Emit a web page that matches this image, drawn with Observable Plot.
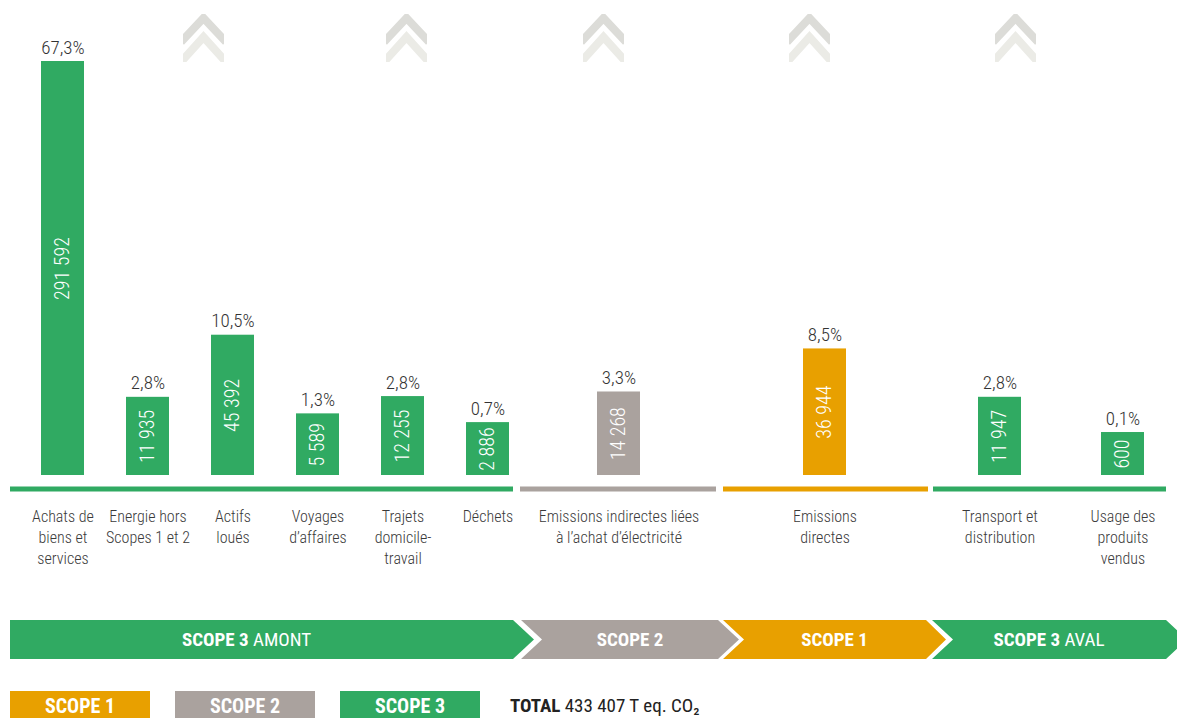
<!DOCTYPE html>
<html>
<head>
<meta charset="utf-8">
<script src="https://cdn.jsdelivr.net/npm/d3@7"></script>
<script src="https://cdn.jsdelivr.net/npm/@observablehq/plot@0.6"></script>
<style>
  html, body { margin: 0; padding: 0; background: #fff; }
  body { width: 1177px; height: 718px; overflow: hidden; position: relative;
         font-family: "Roboto Condensed", "DejaVu Sans Condensed", "Liberation Sans Narrow", sans-serif; font-stretch: condensed; }
  #chart { position: absolute; left: 0; top: 0; width: 1177px; height: 600px; }
  .panel { position: absolute; top: 0; }
  .panel svg { overflow: visible; font-stretch: condensed; }
  .chev { position: absolute; top: 14px; width: 41px; height: 48px; overflow: hidden; }
  .band { position: absolute; top: 620px; height: 39px; color: #fff; font-size: 19px; line-height: 39px; text-align: center; }
  .band b { font-weight: bold; }
  .legend { position: absolute; top: 691px; width: 140px; height: 30px; line-height: 31px; color: #fff;
            font-weight: bold; font-size: 20px; text-align: center; }
  #total { position: absolute; top: 691px; left: 510px; line-height: 30px; font-size: 19px; color: #222; }
</style>
</head>
<body>
<div id="chart"></div>
<div id="deco"></div>
<div id="bottom"></div>
<script>
// ---------- data ----------
const categories = [
  "Achats de\nbiens et\nservices",
  "Energie hors\nScopes 1 et 2",
  "Actifs\nloués",
  "Voyages\nd’affaires",
  "Trajets\ndomicile-\ntravail",
  "Déchets",
  "Emissions indirectes liées\nà l’achat d’électricité",
  "Emissions\ndirectes",
  "Transport et\ndistribution",
  "Usage des\nproduits\nvendus"
];
const values   = [291592, 11935, 45392, 5589, 12255, 2886, 14268, 36944, 11947, 600];
const percents = [67.3, 2.8, 10.5, 1.3, 2.8, 0.7, 3.3, 8.5, 2.8, 0.1];
const scopes   = ["SCOPE 3", "SCOPE 3", "SCOPE 3", "SCOPE 3", "SCOPE 3", "SCOPE 3", "SCOPE 2", "SCOPE 1", "SCOPE 3", "SCOPE 3"];
const groups   = ["SCOPE 3 AMONT", "SCOPE 3 AMONT", "SCOPE 3 AMONT", "SCOPE 3 AMONT", "SCOPE 3 AMONT", "SCOPE 3 AMONT",
                  "SCOPE 2", "SCOPE 1", "SCOPE 3 AVAL", "SCOPE 3 AVAL"];
const groupNames = ["SCOPE 3 AMONT", "SCOPE 2", "SCOPE 1", "SCOPE 3 AVAL"];
const groupScope = ["SCOPE 3", "SCOPE 2", "SCOPE 1", "SCOPE 3"];
const scopeNames = ["SCOPE 1", "SCOPE 2", "SCOPE 3"];
const totalText = "433 407 T eq. CO₂";

// ---------- styles / layout ----------
const FONT = "'Roboto Condensed', 'DejaVu Sans Condensed', 'Liberation Sans Narrow', sans-serif";
const scopeColors = ["#e8a000", "#aaa29e", "#30aa62"];
const colorOf = s => scopeColors[scopeNames.indexOf(s)];
const panels = [
  {left: 10,  width: 503, range: [-14, 543],    padding: 0.5},
  {left: 520, width: 196, range: [33.5, 162.5], padding: 0.5},
  {left: 723, width: 205, range: [36.5, 165.5], padding: 0.5},
  {left: 933, width: 233, range: [-34.5, 291.5], padding: 0.65}
];
const EXP = 0.7;          // visual (non-linear) value scale of the infographic
const yBase = -11050;     // bottom of the value scale domain
const yMax = 291592;
const powT = v => Math.sign(v) * Math.abs(v) ** EXP;
const powInv = u => Math.sign(u) * Math.abs(u) ** (1 / EXP);
const mid = v => powInv((powT(yBase) + powT(v)) / 2);

const locale = d3.formatLocale({decimal: ",", thousands: " ", grouping: [3], currency: ["", ""]});
const fmtInt = locale.format(",d");
const fmtPct = d => locale.format(".1f")(d) + "%";

const rows = categories.map((c, i) => ({label: c, value: values[i], pct: percents[i], scope: scopes[i], group: groups[i]}));

const chart = document.getElementById("chart");
groupNames.forEach((g, gi) => {
  const p = panels[gi];
  const data = rows.filter(r => r.group === g);
  const col = colorOf(groupScope[gi]);
  const plot = Plot.plot({
    width: p.width, height: 580,
    marginLeft: 0, marginRight: 0, marginTop: 61, marginBottom: 105,
    style: {background: "transparent", overflow: "visible", fontFamily: FONT},
    x: {type: "band", domain: data.map(d => d.label), range: p.range, padding: p.padding, axis: null},
    y: {type: "pow", exponent: EXP, domain: [yBase, yMax], axis: null},
    color: {domain: scopeNames, range: scopeColors},
    marks: [
      Plot.ruleY([yBase], {stroke: col, strokeWidth: 5, dy: 13.5}),
      Plot.barY(data, {x: "label", y1: () => yBase, y2: "value", fill: "scope"}),
      Plot.text(data, {x: "label", y: "value", text: d => fmtPct(d.pct), dy: -8, lineAnchor: "bottom",
                       fontSize: 19, fill: "#333", fontWeight: 300}),
      Plot.text(data, {x: "label", y: d => mid(d.value), text: d => fmtInt(d.value), rotate: -90,
                       fontSize: 20, fill: "#fff", fontWeight: 300}),
      Plot.axisX({tickSize: 0, tickPadding: 31, fontSize: 16, lineHeight: 1.32, fill: "#3a3a3a", fontWeight: 300, label: null})
    ]
  });
  const div = document.createElement("div");
  div.className = "panel";
  div.style.left = p.left + "px";
  div.appendChild(plot);
  chart.appendChild(div);
});

// ---------- decorative chevrons ----------
const deco = document.getElementById("deco");
[183, 386, 583, 789, 995].forEach(x => {
  const d = document.createElement("div");
  d.className = "chev";
  d.style.left = x + "px";
  d.innerHTML = `<svg width="41" height="48" viewBox="0 0 41 48">
    <polyline points="-2,28 20.5,4 43,28" fill="none" stroke="#dcdcd8" stroke-width="8"/>
    <polyline points="-2,48 20.5,23 43,48" fill="none" stroke="#ebebe6" stroke-width="8"/>
  </svg>`;
  deco.appendChild(d);
});

// ---------- bottom arrow band ----------
const bottom = document.getElementById("bottom");
const segs = [
  {left: 10,  w: 525, clip: "polygon(0 0, 503px 0, 524px 50%, 503px 100%, 0 100%)", pad: 52},
  {left: 521, w: 218, clip: "polygon(0 0, 197px 0, 218px 50%, 197px 100%, 0 100%, 21px 50%)", pad: 0},
  {left: 723, w: 223, clip: "polygon(0 0, 203px 0, 223px 50%, 203px 100%, 0 100%, 21px 50%)", pad: 0},
  {left: 932, w: 260, clip: "polygon(0 0, 234px 0, 255px 50%, 234px 100%, 0 100%, 21px 50%)", pad: 26}
];
groupNames.forEach((g, gi) => {
  const s = segs[gi];
  const d = document.createElement("div");
  d.className = "band";
  d.style.left = s.left + "px";
  d.style.width = (s.w - s.pad) + "px";
  d.style.paddingRight = s.pad + "px";
  d.style.background = colorOf(groupScope[gi]);
  d.style.clipPath = s.clip;
  const parts = g.split(" ");
  const head = parts.slice(0, 2).join(" ");
  const tail = parts.slice(2).join(" ");
  d.innerHTML = `<b>${head}</b>${tail ? " " + tail : ""}`;
  bottom.appendChild(d);
});

// ---------- legend ----------
[10, 175, 340].forEach((x, i) => {
  const d = document.createElement("div");
  d.className = "legend";
  d.style.left = x + "px";
  d.style.background = scopeColors[i];
  d.textContent = scopeNames[i];
  bottom.appendChild(d);
});
const t = document.createElement("div");
t.id = "total";
t.innerHTML = `<b>TOTAL</b> ${totalText}`;
bottom.appendChild(t);
</script>
</body>
</html>
